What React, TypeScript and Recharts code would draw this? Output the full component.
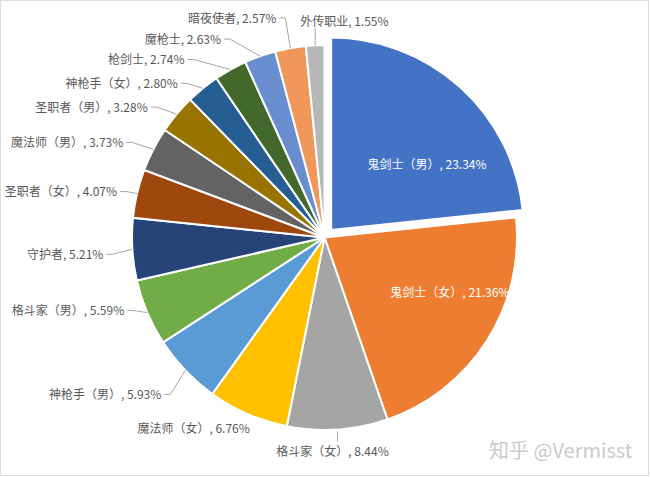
import React from 'react';
import { PieChart, Pie, Cell } from 'recharts';

const NAMES = ['鬼剑士（男）', '鬼剑士（女）', '格斗家（女）', '魔法师（女）', '神枪手（男）', '格斗家（男）', '守护者', '圣职者（女）', '魔法师（男）', '圣职者（男）', '神枪手（女）', '枪剑士', '魔枪士', '暗夜使者', '外传职业'];
const VALUES = [23.34, 21.36, 8.44, 6.76, 5.93, 5.59, 5.21, 4.07, 3.73, 3.28, 2.8, 2.74, 2.63, 2.57, 1.55];
const COLORS = ['#4472C4', '#ED7D31', '#A5A5A5', '#FFC000', '#5B9BD5', '#70AD47', '#264478', '#9E480E', '#636363', '#997300', '#255E91', '#43682B', '#698ED0', '#F1975A', '#B7B7B7'];

const data = NAMES.map((name, i) => ({ name, value: VALUES[i] }));

const CX = 324.5;
const CY = 237.5;
const R = 192.5;
const EXPLODE = 10;
const RAD = Math.PI / 180;

// explosion offset of the first slice along its mid angle
const total = VALUES.reduce((a, b) => a + b, 0);
const firstMid = 90 - (VALUES[0] / total) * 360 / 2;
const EX_DX = EXPLODE * Math.cos(-firstMid * RAD);
const EX_DY = EXPLODE * Math.sin(-firstMid * RAD);

type Layout = { dx: number; dy: number; kind: 'inside' | 'elbow' | 'none' | 'below' | 'above' };
const LABEL_LAYOUT: Layout[] = [
  { dx: -33, dy: 76, kind: 'inside' },
  { dx: -37, dy: -49, kind: 'inside' },
  { dx: -5, dy: 21, kind: 'below' },
  { dx: 2, dy: 13, kind: 'none' },
  { dx: -24, dy: 23, kind: 'elbow' },
  { dx: -23, dy: -3, kind: 'elbow' },
  { dx: -29, dy: 4, kind: 'elbow' },
  { dx: -20, dy: -3, kind: 'elbow' },
  { dx: -30, dy: -8, kind: 'elbow' },
  { dx: -29, dy: -8, kind: 'elbow' },
  { dx: -25, dy: -6, kind: 'elbow' },
  { dx: -46, dy: -11, kind: 'elbow' },
  { dx: -39, dy: -18, kind: 'elbow' },
  { dx: -14, dy: -31, kind: 'elbow' },
  { dx: -15, dy: -25, kind: 'above' },
];

const FONT = '"Noto Sans CJK SC", "Microsoft YaHei", sans-serif';
const LINE = '#a6a6a6';
const TXT = '#595959';

const renderLabel = (props: any) => {
  const { cx, cy, midAngle, outerRadius, index, name, value } = props;
  let ox = cx;
  let oy = cy;
  if (index === 0) {
    ox += EX_DX;
    oy += EX_DY;
  }
  const ex = ox + outerRadius * Math.cos(-midAngle * RAD);
  const ey = oy + outerRadius * Math.sin(-midAngle * RAD);
  const L = LABEL_LAYOUT[index];
  const tx = ex + L.dx;
  const ty = ey + L.dy;
  const label = `${name}, ${Number(value).toFixed(2)}%`;
  if (L.kind === 'inside') {
    return (
      <text key={`l${index}`} x={tx} y={ty} fill="#ffffff" fontSize={12} fontFamily={FONT} textAnchor="middle" dominantBaseline="central">
        {label}
      </text>
    );
  }
  if (L.kind === 'below') {
    return (
      <g key={`l${index}`}>
        <line x1={ex} y1={ey + 2} x2={ex} y2={ey + 12} stroke={LINE} strokeWidth={1} />
        <text x={tx} y={ty} fill={TXT} fontSize={12} fontFamily={FONT} textAnchor="middle" dominantBaseline="central">
          {label}
        </text>
      </g>
    );
  }
  if (L.kind === 'above') {
    return (
      <g key={`l${index}`}>
        <line x1={ex} y1={ey} x2={ex} y2={ey - 17} stroke={LINE} strokeWidth={1} />
        <text x={tx} y={ty} fill={TXT} fontSize={12} fontFamily={FONT} textAnchor="start" dominantBaseline="central">
          {label}
        </text>
      </g>
    );
  }
  if (L.kind === 'none') {
    return (
      <text key={`l${index}`} x={tx} y={ty} fill={TXT} fontSize={12} fontFamily={FONT} textAnchor="end" dominantBaseline="central">
        {label}
      </text>
    );
  }
  return (
    <g key={`l${index}`}>
      <polyline points={`${ex},${ey} ${tx + 9},${ty + 1} ${tx + 3},${ty + 1}`} fill="none" stroke={LINE} strokeWidth={1} />
      <text x={tx} y={ty} fill={TXT} fontSize={12} fontFamily={FONT} textAnchor="end" dominantBaseline="central">
        {label}
      </text>
    </g>
  );
};

export default function App() {
  return (
    <div style={{ position: 'absolute', left: 0, top: 0, width: 650, height: 477, background: '#fff' }}>
      <PieChart width={650} height={477} margin={{ top: 0, right: 0, bottom: 0, left: 0 }}>
        <Pie
          data={data}
          dataKey="value"
          nameKey="name"
          cx={CX}
          cy={CY}
          outerRadius={R}
          startAngle={90}
          endAngle={-270}
          stroke="#ffffff"
          strokeWidth={2}
          label={renderLabel}
          labelLine={false}
          isAnimationActive={false}
        >
          {data.map((d, i) => (
            <Cell key={`c${i}`} fill={i === 0 ? 'none' : COLORS[i]} stroke={i === 0 ? 'none' : '#ffffff'} />
          ))}
        </Pie>
        <Pie
          data={data}
          dataKey="value"
          nameKey="name"
          cx={CX + EX_DX}
          cy={CY + EX_DY}
          outerRadius={R}
          startAngle={90}
          endAngle={-270}
          stroke="#ffffff"
          strokeWidth={2}
          isAnimationActive={false}
        >
          {data.map((d, i) => (
            <Cell key={`e${i}`} fill={i === 0 ? COLORS[0] : 'none'} stroke={i === 0 ? '#ffffff' : 'none'} />
          ))}
        </Pie>
      </PieChart>
      <div
        style={{
          position: 'absolute',
          left: 489,
          top: 440,
          fontFamily: FONT,
          fontSize: 20,
          lineHeight: '20px',
          color: '#cacaca',
          whiteSpace: 'nowrap',
        }}
      >
        知乎 @Vermisst
      </div>
      <div
        style={{
          position: 'absolute',
          left: 0,
          top: 0,
          width: 649,
          height: 476,
          border: '1px solid #dcdcdc',
          boxSizing: 'border-box',
          pointerEvents: 'none',
        }}
      />
    </div>
  );
}
